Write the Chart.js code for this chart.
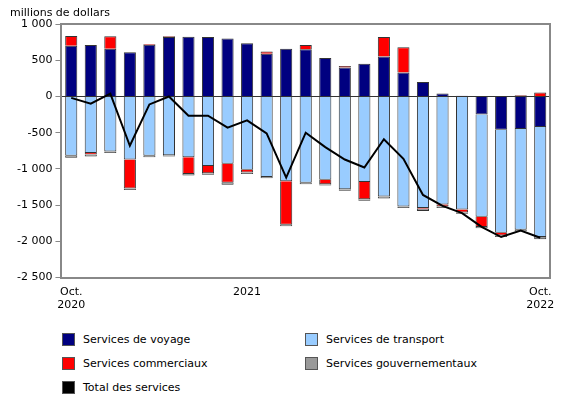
<!DOCTYPE html>
<html>
<head>
<meta charset="utf-8">
<script src="https://cdn.jsdelivr.net/npm/chart.js@4"></script>
<style>
body { margin: 0; font-family: Verdana, "DejaVu Sans", sans-serif; background: #fff; }
#wrap { position: absolute; left: 0; top: 0; width: 580px; height: 320px; }
#unit { position: absolute; left: 10px; top: 6px; font-size: 11px; }
.item { position: absolute; display: flex; align-items: center; font-size: 11px; color: #000; }
.sw { display: inline-block; width: 11px; height: 11px; border: 1px solid #555; margin-right: 8px; }
</style>
</head>
<body>
<div id="wrap"><div id="unit">millions de dollars</div><canvas id="myChart" width="580" height="320"></canvas></div>
<script>
const labels = ["Oct.|2020","","","","","","","","","2021","","","","","","","","","","","","","","","Oct.|2022"];
const voyage = [700,710,660,610,715,820,825,820,800,735,590,660,650,530,400,450,550,330,200,40,10,-250,-460,-450,-420];
const transport = [-820,-780,-760,-870,-820,-810,-840,-960,-930,-1010,-1110,-1170,-1190,-1150,-1280,-1180,-1380,-1520,-1540,-1490,-1560,-1410,-1420,-1390,-1520];
const commerciaux = [135,-20,170,-400,10,10,-230,-100,-260,-40,30,-600,60,-60,20,-240,270,350,-10,-30,-40,-140,-40,15,55];
const gouvernementaux = [-25,-30,-20,-20,-20,-20,-20,-20,-30,-20,-20,-20,-20,-20,-20,-20,-30,-20,-30,-20,-20,-20,-20,-20,-30];
const total = [-20,-100,40,-680,-110,0,-265,-265,-430,-330,-510,-1120,-500,-700,-870,-980,-590,-860,-1360,-1510,-1610,-1800,-1940,-1850,-1950];

const legendItems = [
	["Services de voyage", "#000080", 62, 340],
	["Services de transport", "#99ccff", 305, 340],
	["Services commerciaux", "#ff0000", 62, 364],
	["Services gouvernementaux", "#999999", 305, 364],
	["Total des services", "#000000", 62, 388],
];
legendItems.forEach((l) => {
	const d = document.createElement("div");
	d.className = "item";
	d.style.left = l[2] + "px";
	d.style.top = (l[3] - 7) + "px";
	d.innerHTML = '<span class="sw" style="background:' + l[1] + '"></span>' + l[0];
	document.body.appendChild(d);
});

const bar = (label, data, color) => ({
	type: "bar", label: label, data: data, backgroundColor: color,
	borderColor: "#333", borderWidth: 1, barPercentage: 0.62, categoryPercentage: 1, stack: "s", order: 2,
});

new Chart(document.getElementById("myChart"), {
	data: {
		labels: labels,
		datasets: [
			{ type: "line", label: "Total des services", data: total, borderColor: "#000", borderWidth: 2,
				pointRadius: 0, tension: 0, order: 1 },
			bar("Services de voyage", voyage, "#000080"),
			bar("Services de transport", transport, "#99ccff"),
			bar("Services commerciaux", commerciaux, "#ff0000"),
			bar("Services gouvernementaux", gouvernementaux, "#999999"),
		],
	},
	options: {
		responsive: false,
		animation: false,
		layout: { padding: { top: 24, right: 30, left: 14 } },
		plugins: { legend: { display: false }, tooltip: { enabled: false } },
		scales: {
			x: {
				stacked: true,
				grid: { display: false, drawTicks: false },
				border: { color: "#888", width: 2 },
				ticks: {
					autoSkip: false, maxRotation: 0, color: "#000", font: { size: 11, family: "Verdana, DejaVu Sans" },
					padding: 8,
					callback: function (v, i) { return labels[i] ? labels[i].split("|") : ""; },
				},
			},
			x2: { position: "top", grid: { display: false, drawTicks: false }, ticks: { display: false }, border: { color: "#888", width: 2 } },
			y: {
				stacked: true, min: -2500, max: 1000,
				border: { color: "#888", width: 2 },
				ticks: {
					stepSize: 500, color: "#000", font: { size: 11, family: "Verdana, DejaVu Sans" },
					callback: (v) => (v < 0 ? "-" : "") + (Math.abs(v) >= 1000 ? Math.floor(Math.abs(v) / 1000) + " " + String(Math.abs(v) % 1000).padStart(3, "0") : Math.abs(v)),
				},
				grid: {
					drawOnChartArea: true, tickLength: 6, tickColor: "#888",
					color: (c) => (c.tick && c.tick.value === 0 ? "#333" : "rgba(0,0,0,0)"),
				},
			},
			y2: { position: "right", grid: { display: false, drawTicks: false }, ticks: { display: false }, border: { color: "#888", width: 2 } },
		},
	},
});
</script>
</body>
</html>
